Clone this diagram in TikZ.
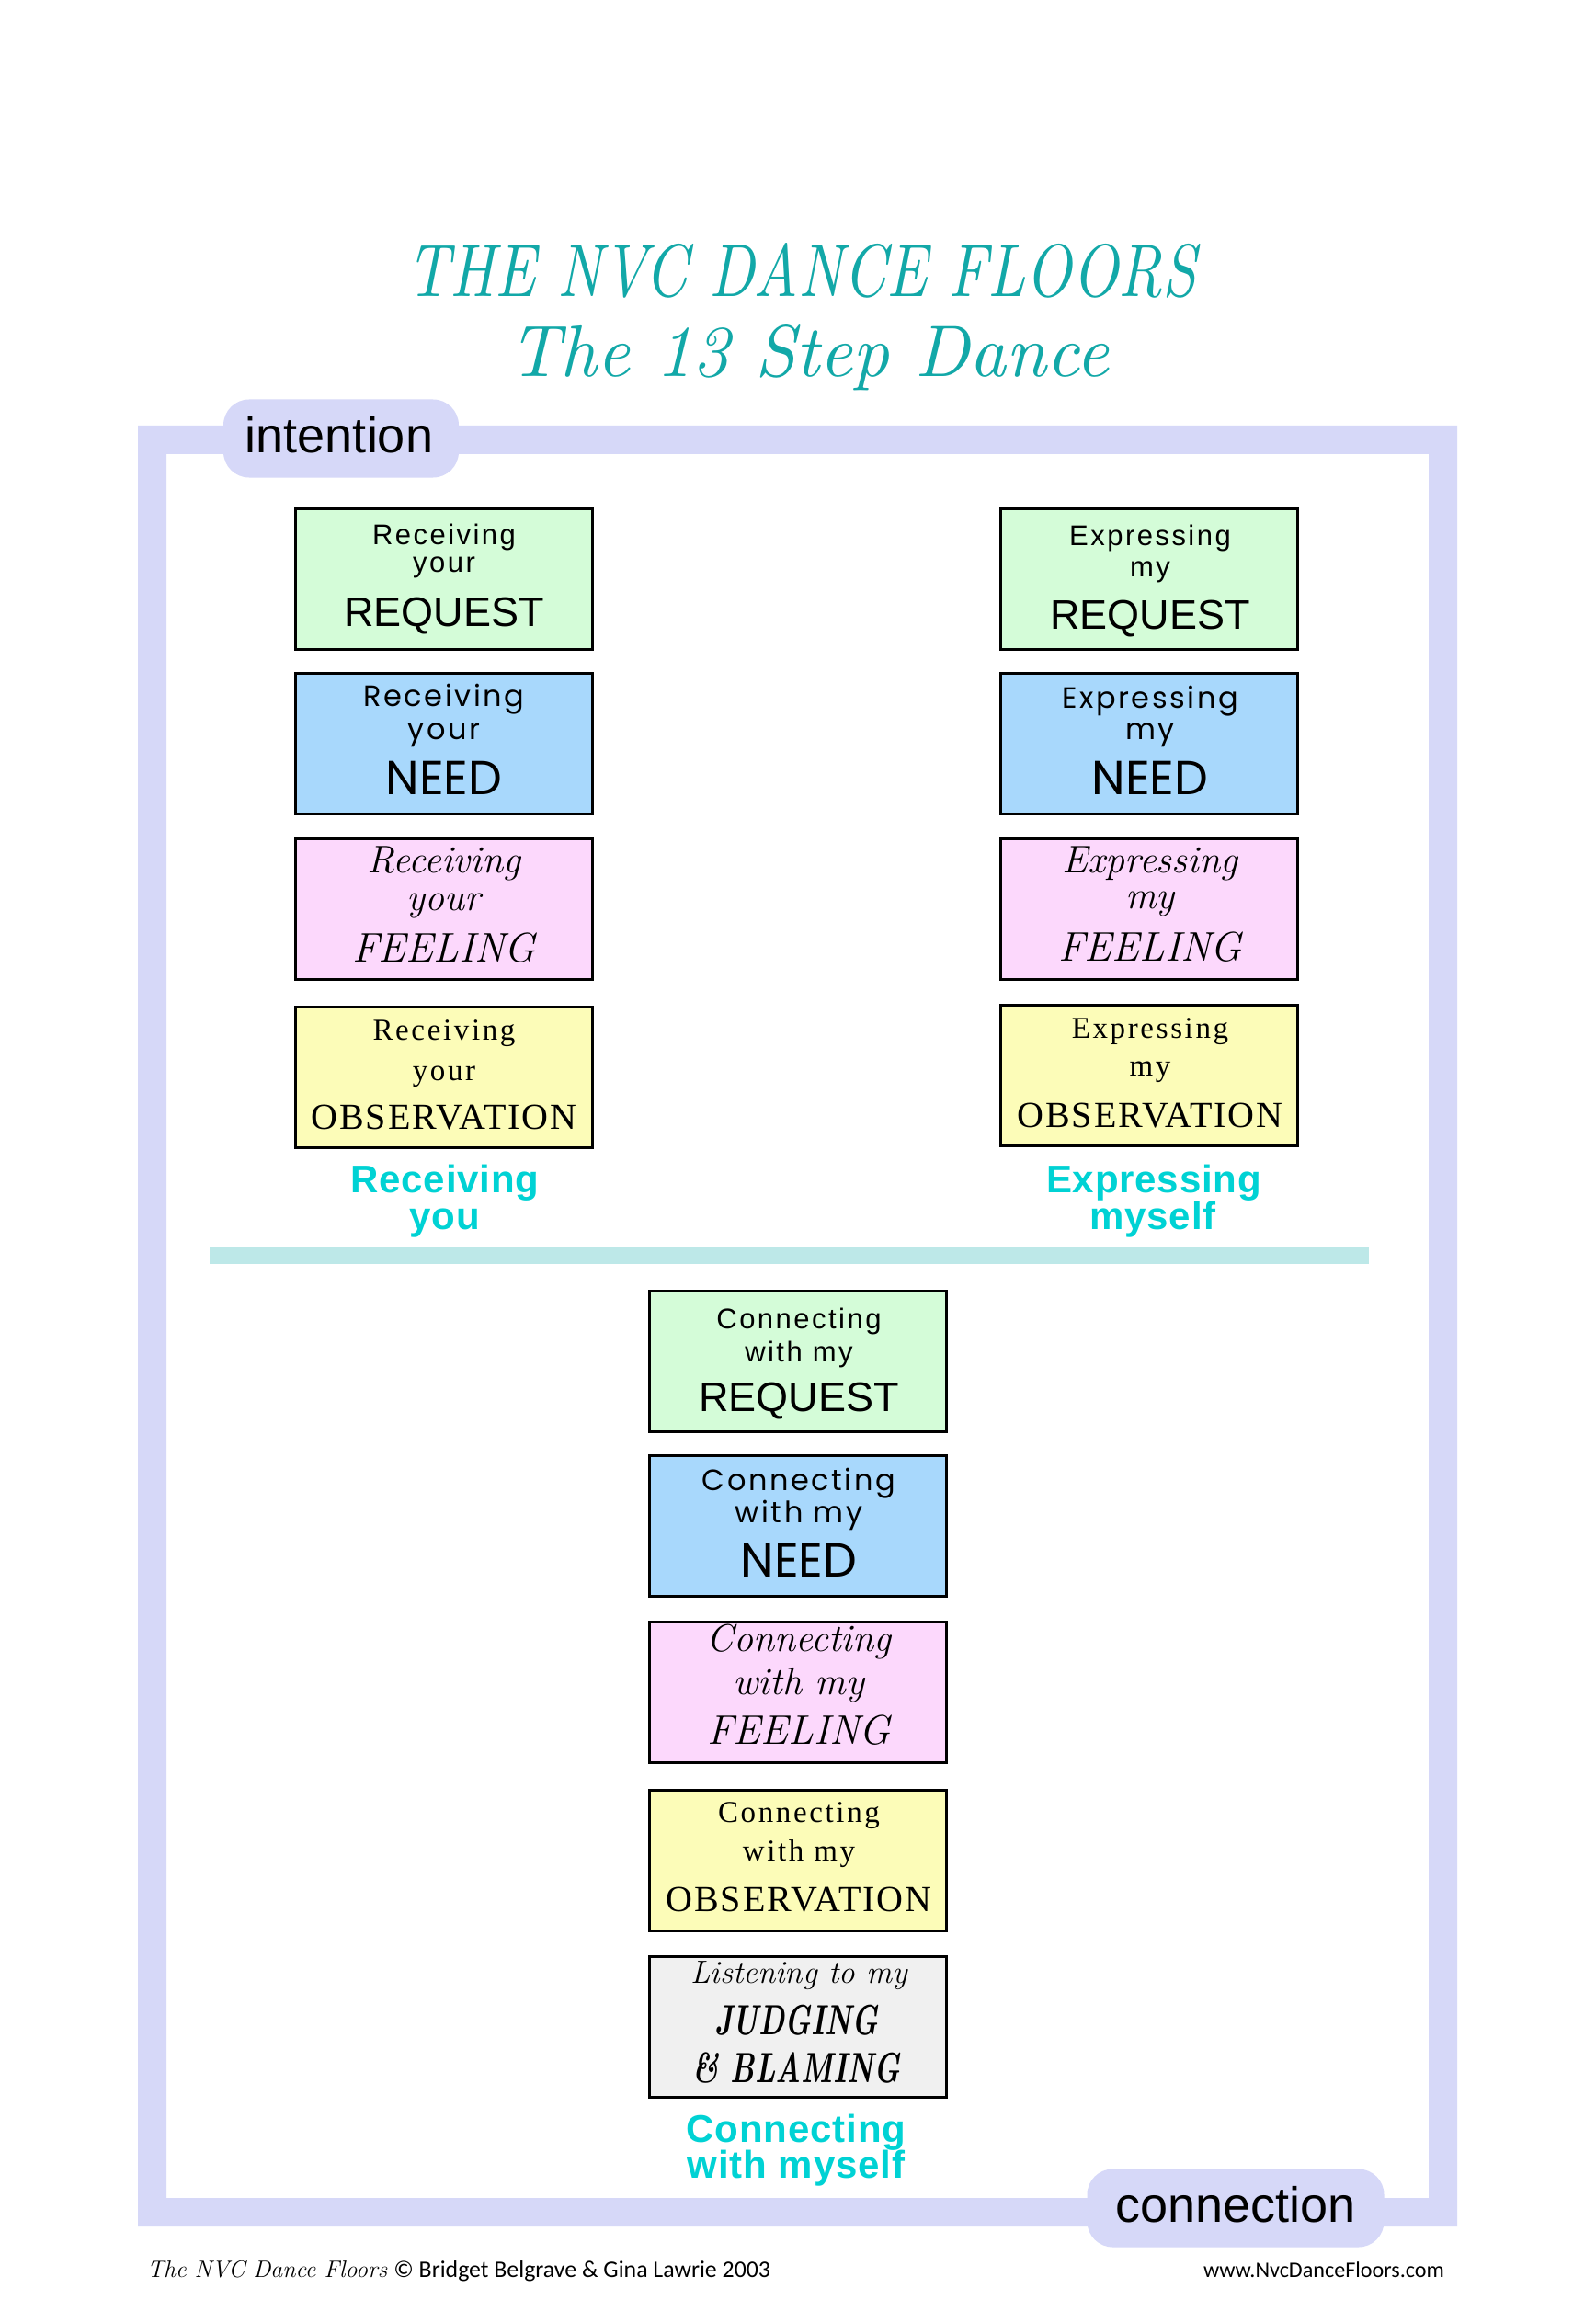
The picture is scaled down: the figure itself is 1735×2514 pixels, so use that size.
\documentclass[tikz,border=0pt]{standalone}
\usepackage{fontspec}
\usepackage{graphicx}
\newfontfamily\fReq{Liberation Sans}
\newfontfamily\fReqS[LetterSpace=8]{Liberation Sans}
\newfontfamily\fNeed{Poppins}
\newfontfamily\fNeedS[LetterSpace=8]{Poppins}
\newfontfamily\fObs[LetterSpace=5]{Liberation Serif}
\newfontfamily\fObsS[LetterSpace=8]{Liberation Serif}
\newfontfamily\fLab[LetterSpace=2]{Liberation Sans}
\newfontfamily\fFoot{Carlito}
\definecolor{framec}{HTML}{D6D8F8}
\definecolor{greenc}{HTML}{D4FCD8}
\definecolor{bluec}{HTML}{A8D8FC}
\definecolor{pinkc}{HTML}{FCD8FC}
\definecolor{yellowc}{HTML}{FCFCB8}
\definecolor{grayc}{HTML}{F0F0F0}
\definecolor{cyanc}{HTML}{00D2D4}
\definecolor{sepc}{HTML}{BDE8E8}
\definecolor{titlec}{HTML}{12A8A8}
\tikzset{
  stepbox/.style={draw=black, line width=1.5pt, minimum width=161.5pt, minimum height=76.5pt, inner sep=0pt, anchor=north west, xshift=0.75pt, yshift=-0.75pt},
  txt/.style={anchor=base, inner sep=0pt, outer sep=0pt},
  sreq/.style={txt, font=\fReqS\fontsize{15.5pt}{16pt}\selectfont},
  breq/.style={txt, font=\fReq\fontsize{22.5pt}{24pt}\selectfont},
  sneed/.style={txt, font=\fNeedS\fontsize{16pt}{17pt}\selectfont},
  bneed/.style={txt, font=\fNeed\fontsize{26pt}{28pt}\selectfont},
  sfeel/.style={txt, font=\normalfont\itshape\fontsize{21pt}{22pt}\selectfont},
  bfeel/.style={txt, font=\normalfont\itshape\fontsize{22.5pt}{24pt}\selectfont},
  sobs/.style={txt, font=\fObsS\fontsize{16.5pt}{18pt}\selectfont},
  bobs/.style={txt, font=\fObs\fontsize{20pt}{22pt}\selectfont},
  sjud/.style={txt, font=\normalfont\itshape\fontsize{17.5pt}{18pt}\selectfont},
  bjud/.style={txt, font=\normalfont\bfseries\itshape\fontsize{23pt}{24pt}\selectfont},
  lab/.style={txt, text=cyanc, font=\fLab\bfseries\fontsize{21pt}{22pt}\selectfont},
  pill/.style={fill=framec, rounded corners=14pt, minimum height=42.5pt, inner sep=0pt},
  pilltext/.style={txt, font=\fReq\fontsize{27pt}{28pt}\selectfont},
  titletext/.style={txt, text=titlec, font=\normalfont\itshape},
  foot/.style={inner sep=0pt, outer sep=0pt},
}
\begin{document}
\begin{tikzpicture}[x=0.5pt,y=-0.5pt]
\useasboundingbox (0,0) rectangle (1735,2514);
\fill[white] (0,0) rectangle (1735,2514);
% title
\node[titletext] (t1) at (872,323) {\resizebox{429pt}{29pt}{THE NVC DANCE FLOORS}};
\node[titletext] (t2) at (880,410) {\resizebox{326pt}{28pt}{The 13 Step Dance}};
% frame
\fill[framec, even odd rule] (150,463) rectangle (1585,2422) (181,494) rectangle (1554,2391);
\node[pill, minimum width=128pt] (intpill) at (371,477) {};
\node[pilltext] (inttxt) at (369,493) {intention};
\node[pill, minimum width=161.5pt] (conpill) at (1344,2402) {};
\node[pilltext] (contxt) at (1344,2417) {connection};
% separator
\fill[sepc] (228,1357) rectangle (1489,1375);
% left column
\node[stepbox, fill=greenc] (lreq) at (318,550) {};
\node[sreq] (lreq1) at (483,592) {Receiving};
\node[sreq] (lreq2) at (483,622) {your};
\node[breq] (lreq3) at (483,681) {REQUEST};
\node[stepbox, fill=bluec] (lneed) at (318,729) {};
\node[sneed] (lneed1) at (483,768) {Receiving};
\node[sneed] (lneed2) at (483,804) {your};
\node[bneed] (lneed3) at (483,864) {NEED};
\node[stepbox, fill=pinkc] (lfeel) at (318,909) {};
\node[sfeel] (lfeel1) at (483,949) {Receiving};
\node[sfeel] (lfeel2) at (483,990) {your};
\node[bfeel] (lfeel3) at (483,1046) {FEELING};
\node[stepbox, fill=yellowc] (lobs) at (318,1092) {};
\node[sobs] (lobs1) at (483,1131) {Receiving};
\node[sobs] (lobs2) at (483,1175) {your};
\node[bobs] (lobs3) at (483,1228) {OBSERVATION};
\node[lab] (llab1) at (484,1297) {Receiving};
\node[lab] (llab2) at (484,1337) {you};
% right column
\node[stepbox, fill=greenc] (rreq) at (1085,550) {};
\node[sreq] (rreq1) at (1251,593) {Expressing};
\node[sreq] (rreq2) at (1251,627) {my};
\node[breq] (rreq3) at (1251,684) {REQUEST};
\node[stepbox, fill=bluec] (rneed) at (1085,729) {};
\node[sneed] (rneed1) at (1251,770) {Expressing};
\node[sneed] (rneed2) at (1251,804) {my};
\node[bneed] (rneed3) at (1251,864) {NEED};
\node[stepbox, fill=pinkc] (rfeel) at (1085,909) {};
\node[sfeel] (rfeel1) at (1251,949) {Expressing};
\node[sfeel] (rfeel2) at (1251,988) {my};
\node[bfeel] (rfeel3) at (1251,1045) {FEELING};
\node[stepbox, fill=yellowc] (robs) at (1085,1090) {};
\node[sobs] (robs1) at (1251,1129) {Expressing};
\node[sobs] (robs2) at (1251,1170) {my};
\node[bobs] (robs3) at (1251,1226) {OBSERVATION};
\node[lab] (rlab1) at (1255,1297) {Expressing};
\node[lab] (rlab2) at (1254,1337) {myself};
% centre column
\node[stepbox, fill=greenc] (creq) at (703,1401) {};
\node[sreq] (creq1) at (869,1445) {Connecting};
\node[sreq] (creq2) at (869,1481) {with my};
\node[breq] (creq3) at (869,1535) {REQUEST};
\node[stepbox, fill=bluec] (cneed) at (703,1580) {};
\node[sneed] (cneed1) at (869,1621) {Connecting};
\node[sneed] (cneed2) at (869,1656) {with my};
\node[bneed] (cneed3) at (869,1715) {NEED};
\node[stepbox, fill=pinkc] (cfeel) at (703,1761) {};
\node[sfeel] (cfeel1) at (869,1796) {Connecting};
\node[sfeel] (cfeel2) at (869,1843) {with my};
\node[bfeel] (cfeel3) at (869,1897) {FEELING};
\node[stepbox, fill=yellowc] (cobs) at (703,1944) {};
\node[sobs] (cobs1) at (869,1982) {Connecting};
\node[sobs] (cobs2) at (869,2024) {with my};
\node[bobs] (cobs3) at (869,2079) {OBSERVATION};
\node[stepbox, fill=grayc] (cjud) at (703,2125) {};
\node[sjud] (cjud1) at (869,2157) {Listening to my};
\node[bjud] (cjud2) at (866,2213) {\scalebox{0.7}[1]{JUDGING}};
\node[bjud] (cjud3) at (866,2265) {\scalebox{0.7}[1]{\& BLAMING}};
\node[lab] (clab1) at (866,2330) {Connecting};
\node[lab] (clab2) at (866,2369) {with myself};
% footer
\node[foot, anchor=base west] (footl) at (160,2477) {\resizebox{339pt}{!}{{\normalfont\itshape\fontsize{12pt}{13pt}\selectfont The NVC Dance Floors} {\fFoot\fontsize{12pt}{13pt}\selectfont © Bridget Belgrave \& Gina Lawrie 2003}}};
\node[foot, anchor=base east] (footr) at (1571,2477) {\resizebox{131pt}{!}{\fFoot\fontsize{12pt}{13pt}\selectfont www.NvcDanceFloors.com}};
\end{tikzpicture}
\end{document}
